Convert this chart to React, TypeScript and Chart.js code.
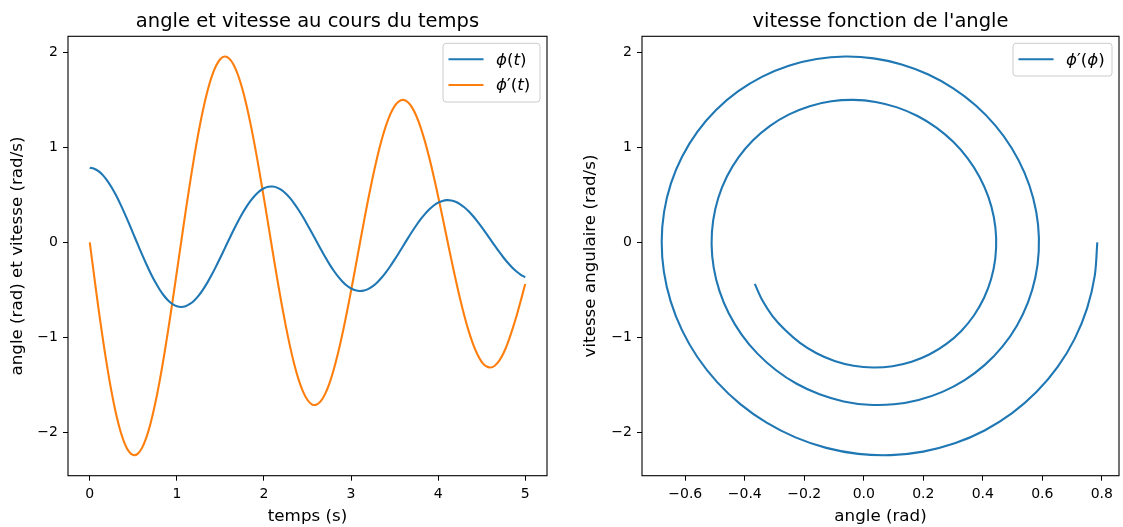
import React, { useEffect, useRef } from "react";
import { Chart, registerables } from "chart.js";

Chart.register(...registerables);

// ---- data ----
const times = [
  0.0, 0.05, 0.1, 0.15, 0.2, 0.25, 0.3, 0.35, 0.4, 0.45,
  0.5, 0.55, 0.6, 0.65, 0.7, 0.75, 0.8, 0.85, 0.9, 0.95,
  1.0, 1.05, 1.1, 1.15, 1.2, 1.25, 1.3, 1.35, 1.4, 1.45,
  1.5, 1.55, 1.6, 1.65, 1.7, 1.75, 1.8, 1.85, 1.9, 1.95,
  2.0, 2.05, 2.1, 2.15, 2.2, 2.25, 2.3, 2.35, 2.4, 2.45,
  2.5, 2.55, 2.6, 2.65, 2.7, 2.75, 2.8, 2.85, 2.9, 2.95,
  3.0, 3.05, 3.1, 3.15, 3.2, 3.25, 3.3, 3.35, 3.4, 3.45,
  3.5, 3.55, 3.6, 3.65, 3.7, 3.75, 3.8, 3.85, 3.9, 3.95,
  4.0, 4.05, 4.1, 4.15, 4.2, 4.25, 4.3, 4.35, 4.4, 4.45,
  4.5, 4.55, 4.6, 4.65, 4.7, 4.75, 4.8, 4.85, 4.9, 4.95,
  5.0,
];

const angle = [
  0.785, 0.7763, 0.7506, 0.7088, 0.6517, 0.5811, 0.4986, 0.406, 0.3057, 0.1998,
  0.0909, -0.0186, -0.1262, -0.2296, -0.3266, -0.415, -0.4929, -0.5588, -0.6111, -0.649,
  -0.6719, -0.6792, -0.6712, -0.6481, -0.6104, -0.5595, -0.4965, -0.423, -0.3409, -0.252,
  -0.1586, -0.0628, 0.0332, 0.1273, 0.2172, 0.3008, 0.3766, 0.4426, 0.4975, 0.5401,
  0.5698, 0.5859, 0.5881, 0.5767, 0.552, 0.5147, 0.4659, 0.4069, 0.3392, 0.2643,
  0.1843, 0.101, 0.0163, -0.0676, -0.1487, -0.2255, -0.2957, -0.3581, -0.4112, -0.4539,
  -0.4851, -0.5044, -0.5115, -0.5063, -0.4891, -0.4604, -0.4211, -0.3722, -0.3149, -0.2509,
  -0.1817, -0.109, -0.0346, 0.0397, 0.112, 0.1807, 0.2441, 0.3007, 0.3493, 0.3887,
  0.4182, 0.4371, 0.445, 0.4419, 0.4281, 0.404, 0.3702, 0.3278, 0.2778, 0.2217,
  0.1609, 0.0968, 0.0312, -0.0343, -0.0981, -0.1587, -0.2145, -0.2642, -0.3067, -0.341,
  -0.3663,
];

const speed = [
  0.0, -0.3529, -0.694, -1.0155, -1.3107, -1.5732, -1.7977, -1.9796, -2.1153, -2.2023,
  -2.2392, -2.2258, -2.163, -2.0525, -1.8977, -1.702, -1.4707, -1.209, -0.9235, -0.6205,
  -0.3075, 0.0088, 0.321, 0.6219, 0.9052, 1.1646, 1.3941, 1.5892, 1.7455, 1.8602,
  1.931, 1.9566, 1.9372, 1.8736, 1.7677, 1.6224, 1.4417, 1.2298, 0.9921, 0.7344,
  0.4629, 0.184, -0.0958, -0.37, -0.6321, -0.8763, -1.097, -1.2896, -1.4493, -1.5732,
  -1.6588, -1.7044, -1.7093, -1.6739, -1.5995, -1.4882, -1.3431, -1.168, -0.9674, -0.7463,
  -0.5102, -0.2649, -0.0162, 0.2298, 0.4673, 0.6907, 0.8948, 1.0749, 1.227, 1.3478,
  1.4347, 1.4859, 1.5006, 1.4789, 1.4217, 1.3306, 1.2087, 1.0586, 0.8848, 0.6915,
  0.4838, 0.2669, 0.046, -0.1733, -0.3856, -0.5858, -0.7693, -0.9315, -1.0687, -1.1779,
  -1.2568, -1.3035, -1.3174, -1.2986, -1.2478, -1.1666, -1.0573, -0.9231, -0.775, -0.61,
  -0.437,
];

const timeTicks = [0, 1, 2, 3, 4, 5];
const valueTicks = [-2, -1, 0, 1, 2];
const angleTicks = [-0.6, -0.4, -0.2, 0.0, 0.2, 0.4, 0.6, 0.8];

const labelAngle = "ϕ(t)";
const labelSpeed = "ϕ′(t)";
const labelPhase = "ϕ′(ϕ)";

const BLUE = "#1f77b4";
const ORANGE = "#ff7f0e";
const FAMILY = '"DejaVu Sans", "Liberation Sans", sans-serif';

const fmt = (v: number, d: number) =>
  (v < -1e-9 ? "\u2212" : "") + Math.abs(v).toFixed(d);

function roundRectPath(ctx: CanvasRenderingContext2D, x: number, y: number, w: number, h: number, r: number) {
  ctx.beginPath();
  ctx.moveTo(x + r, y);
  ctx.lineTo(x + w - r, y);
  ctx.arcTo(x + w, y, x + w, y + r, r);
  ctx.lineTo(x + w, y + h - r);
  ctx.arcTo(x + w, y + h, x + w - r, y + h, r);
  ctx.lineTo(x + r, y + h);
  ctx.arcTo(x, y + h, x, y + h - r, r);
  ctx.lineTo(x, y + r);
  ctx.arcTo(x, y, x + r, y, r);
  ctx.closePath();
}

function drawMath(ctx: CanvasRenderingContext2D, text: string, x: number, y: number) {
  let cx = x;
  ctx.textBaseline = "middle";
  ctx.textAlign = "left";
  ctx.fillStyle = "#000";
  for (const ch of Array.from(text)) {
    const italic = /[a-zϕ]/.test(ch);
    ctx.font = (italic ? "italic " : "") + "16.7px " + FAMILY;
    ctx.fillText(ch, cx, y);
    cx += ctx.measureText(ch).width;
  }
}

function decor(title: string, items: { label: string; color: string }[], boxW: number, boxH: number) {
  return {
    id: "decor",
    afterDatasetsDraw(chart: any) {
      const { ctx, chartArea: a } = chart;
      ctx.save();
      ctx.strokeStyle = "#000";
      ctx.lineWidth = 1.1;
      ctx.strokeRect(a.left, a.top, a.right - a.left, a.bottom - a.top);
      ctx.restore();
    },
    afterDraw(chart: any) {
      const { ctx, chartArea: a } = chart;
      ctx.save();
      // title
      ctx.font = "19.5px " + FAMILY;
      ctx.fillStyle = "#000";
      ctx.textAlign = "center";
      ctx.textBaseline = "alphabetic";
      ctx.fillText(title, (a.left + a.right) / 2, 27);
      // legend
      const right = a.right - 7;
      const top = a.top + 7;
      const left = right - boxW;
      roundRectPath(ctx, left, top, boxW, boxH, 3);
      ctx.fillStyle = "rgba(255,255,255,0.8)";
      ctx.fill();
      ctx.strokeStyle = "#cccccc";
      ctx.lineWidth = 1;
      ctx.stroke();
      items.forEach((it, i) => {
        const y = top + 16 + i * 25.7;
        ctx.strokeStyle = it.color;
        ctx.lineWidth = 2.1;
        ctx.beginPath();
        ctx.moveTo(left + 5.5, y);
        ctx.lineTo(left + 40.5, y);
        ctx.stroke();
        drawMath(ctx, it.label, left + 53, y + 1);
      });
      ctx.restore();
    },
  };
}

function axisCommon() {
  return {
    grid: {
      drawOnChartArea: false,
      drawTicks: true,
      tickLength: 5,
      tickColor: "#000",
      tickWidth: 1,
      color: "#000",
    },
    border: { display: false },
  };
}

function xAxis(min: number, max: number, tickVals: number[], dec: number, title: string) {
  return {
    type: "linear",
    min,
    max,
    ...axisCommon(),
    afterBuildTicks: (s: any) => {
      s.ticks = tickVals.map((v) => ({ value: v }));
    },
    afterFit: (s: any) => {
      s.height = 51.3;
    },
    ticks: {
      padding: 5,
      color: "#000",
      font: { family: FAMILY, size: 14 },
      maxRotation: 0,
      autoSkip: false,
      callback: (v: any) => fmt(Number(v), dec),
    },
    title: {
      display: true,
      text: title,
      color: "#000",
      font: { family: FAMILY, size: 16.7 },
      padding: { top: 0, bottom: 0.5 },
    },
  };
}

function yAxis(width: number, titlePad: number, title: string) {
  return {
    type: "linear",
    min: -2.456,
    max: 2.17,
    ...axisCommon(),
    afterBuildTicks: (s: any) => {
      s.ticks = valueTicks.map((v) => ({ value: v }));
    },
    afterFit: (s: any) => {
      s.width = width;
    },
    ticks: {
      padding: 5,
      color: "#000",
      font: { family: FAMILY, size: 14 },
      autoSkip: false,
      callback: (v: any) => fmt(Number(v), 0),
    },
    title: {
      display: true,
      text: title,
      color: "#000",
      font: { family: FAMILY, size: 16.7 },
      padding: { top: titlePad, bottom: 0 },
    },
  };
}

export default function App() {
  const leftRef = useRef<HTMLCanvasElement>(null);
  const rightRef = useRef<HTMLCanvasElement>(null);

  useEffect(() => {
    const common = {
      animation: false,
      responsive: false,
      devicePixelRatio: 1,
      events: [],
      elements: { point: { radius: 0, hoverRadius: 0 } },
    };
    const plugins = {
      legend: { display: false },
      tooltip: { enabled: false },
      title: { display: false },
    };
    const lineStyle = (color: string) => ({
      showLine: true,
      borderColor: color,
      backgroundColor: color,
      borderWidth: 2.1,
      tension: 0.33,
      pointRadius: 0,
    });

    const c1 = new Chart(leftRef.current as HTMLCanvasElement, {
      type: "scatter",
      data: {
        datasets: [
          {
            label: labelAngle,
            data: times.map((t, i) => ({ x: t, y: angle[i] })),
            ...lineStyle(BLUE),
          },
          {
            label: labelSpeed,
            data: times.map((t, i) => ({ x: t, y: speed[i] })),
            ...lineStyle(ORANGE),
          },
        ],
      },
      options: {
        ...common,
        layout: { padding: { top: 36.3, right: 14, left: 0, bottom: 0 } },
        plugins,
        scales: {
          x: xAxis(-0.25, 5.25, timeTicks, 0, "temps (s)"),
          y: yAxis(68, 7.5, "angle (rad) et vitesse (rad/s)"),
        },
      } as any,
      plugins: [
        decor(
          "angle et vitesse au cours du temps",
          [
            { label: labelAngle, color: BLUE },
            { label: labelSpeed, color: ORANGE },
          ],
          97,
          58.7
        ),
      ],
    } as any);

    const c2 = new Chart(rightRef.current as HTMLCanvasElement, {
      type: "scatter",
      data: {
        datasets: [
          {
            label: labelPhase,
            data: angle.map((a, i) => ({ x: a, y: speed[i] })),
            ...lineStyle(BLUE),
          },
        ],
      },
      options: {
        ...common,
        layout: { padding: { top: 36.3, right: 4, left: 0, bottom: 0 } },
        plugins,
        scales: {
          x: xAxis(-0.7454, 0.8579, angleTicks, 1, "angle (rad)"),
          y: yAxis(81, 20, "vitesse angulaire (rad/s)"),
        },
      } as any,
      plugins: [decor("vitesse fonction de l'angle", [{ label: labelPhase, color: BLUE }], 99, 32.7)],
    } as any);

    return () => {
      c1.destroy();
      c2.destroy();
    };
  }, []);

  return (
    <div style={{ position: "absolute", left: 0, top: 0, width: 1123, height: 527, background: "#fff" }}>
      <canvas ref={leftRef} width={561} height={527} style={{ position: "absolute", left: 0, top: 0 }} />
      <canvas ref={rightRef} width={562} height={527} style={{ position: "absolute", left: 561, top: 0 }} />
    </div>
  );
}
